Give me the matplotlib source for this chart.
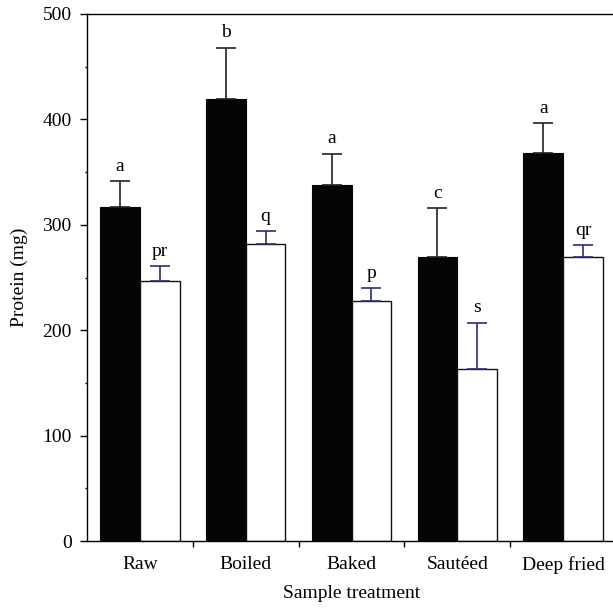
import numpy as np
import matplotlib
matplotlib.use("Agg")
import matplotlib.pyplot as plt
from matplotlib.ticker import MultipleLocator, FixedLocator

# data
categories = ["Raw", "Boiled", "Baked", "Sautéed", "Deep fried"]
black_vals = [316.5, 419, 337.5, 269.5, 368.5]
black_err = [25, 49, 30, 46, 28]
white_vals = [247, 281.5, 227.5, 163.5, 269.5]
white_err = [13.5, 12.5, 12.5, 43.5, 11]
black_letters = ["a", "b", "a", "c", "a"]
white_letters = ["pr", "q", "p", "s", "qr"]

plt.rcParams['font.family'] = ['Liberation Serif', 'DejaVu Serif']
plt.rcParams['font.size'] = 14

fig = plt.figure(figsize=(6.13, 6.11), dpi=100)
ax = fig.add_axes([87 / 613, 70 / 611, 529 / 613, 527 / 611])

x = np.arange(len(categories))
w = 0.375

ax.bar(x - w / 2, black_vals, w, color='#050505', edgecolor='#050505', linewidth=0.8, zorder=2)
ax.bar(x + w / 2, white_vals, w, color='white', edgecolor='#111111', linewidth=1.0, zorder=2)

ax.errorbar(x - w / 2, black_vals, yerr=[np.zeros(5), black_err], fmt='none',
            ecolor='#222222', elinewidth=1.2, capsize=7, capthick=1.2, zorder=3)
ax.errorbar(x + w / 2, white_vals, yerr=[np.zeros(5), white_err], fmt='none',
            ecolor='#2c2c78', elinewidth=1.2, capsize=7, capthick=1.2, zorder=3)

for i in range(len(categories)):
    ax.text(x[i] - w / 2, black_vals[i] + black_err[i] + 6, black_letters[i],
            ha='center', va='bottom', fontsize=14)
    ax.text(x[i] + w / 2, white_vals[i] + white_err[i] + 6, white_letters[i],
            ha='center', va='bottom', fontsize=14)

ax.set_xlim(-0.5, len(categories) - 0.5)
ax.set_ylim(0, 500)

ax.yaxis.set_major_locator(MultipleLocator(100))
ax.yaxis.set_minor_locator(MultipleLocator(50))
ax.tick_params(axis='y', which='major', direction='out', length=5, width=1, pad=6)
ax.tick_params(axis='y', which='minor', direction='out', length=1.5, width=1)

# ticks at group boundaries, labels at group centres
ax.xaxis.set_major_locator(FixedLocator(x[:-1] + 0.5))
ax.xaxis.set_major_formatter(plt.NullFormatter())
ax.set_xticks(x, categories, minor=True)
ax.tick_params(axis='x', which='major', direction='out', length=4, width=1)
ax.tick_params(axis='x', which='minor', length=0, pad=11)

for s in ax.spines.values():
    s.set_linewidth(1.0)

ax.set_ylabel("Protein (mg)", labelpad=10)
ax.set_xlabel("Sample treatment", labelpad=8)

fig.savefig("out.png", dpi=100)
